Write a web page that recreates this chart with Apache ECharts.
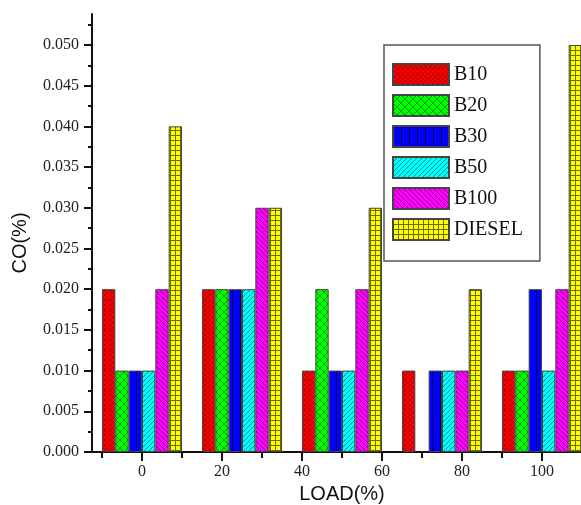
<!DOCTYPE html>
<html>
<head>
<meta charset="utf-8">
<script src="https://cdn.jsdelivr.net/npm/echarts@6/dist/echarts.min.js"></script>
<style>html,body{margin:0;padding:0;background:#fff}#c{width:581px;height:505px}</style>
</head>
<body>
<div id="c"></div>
<script>
// ---- data ----
var loads = ['0', '25', '50', '75', '100'];
var B10    = [0.02, 0.02, 0.01, 0.01, 0.01];
var B20    = [0.01, 0.02, 0.02, null, 0.01];
var B30    = [0.01, 0.02, 0.01, 0.01, 0.02];
var B50    = [0.01, 0.02, 0.01, 0.01, 0.01];
var B100   = [0.02, 0.03, 0.02, 0.01, 0.02];
var DIESEL = [0.04, 0.03, 0.03, 0.02, 0.05];
var xTickLabels = [0, 20, 40, 60, 80, 100];
var xMinorTicks = [-10, 10, 30, 50, 70, 90, 110];
var yTickLabels = [0, 0.005, 0.010, 0.015, 0.020, 0.025, 0.030, 0.035, 0.040, 0.045, 0.050];
var yMinorTicks = [0.0025, 0.0075, 0.0125, 0.0175, 0.0225, 0.0275, 0.0325, 0.0375, 0.0425, 0.0475, 0.0525];

// ---- patterns ----
function pattern(w, h, bg, draw) {
  var c = document.createElement('canvas');
  c.width = w; c.height = h;
  var g = c.getContext('2d');
  g.fillStyle = bg; g.fillRect(0, 0, w, h);
  draw(g, w, h);
  return { image: c, repeat: 'repeat' };
}
function line(g, x1, y1, x2, y2, col, lw) {
  g.strokeStyle = col; g.lineWidth = lw; g.beginPath(); g.moveTo(x1, y1); g.lineTo(x2, y2); g.stroke();
}
var pRed = pattern(5, 5, '#ff0000', function (g, w, h) {
  line(g, 0, 0, w, h, 'rgba(120,0,0,0.7)', 0.8); line(g, w, 0, 0, h, 'rgba(120,0,0,0.7)', 0.8);
});
var pGreen = pattern(8, 8, '#00ff00', function (g, w, h) {
  line(g, 0, 0, w, h, 'rgba(0,90,0,0.8)', 0.8); line(g, w, 0, 0, h, 'rgba(0,90,0,0.8)', 0.8);
});
var pBlue = pattern(8, 8, '#0000ff', function (g, w, h) {
  line(g, 0.5, 0, 0.5, h, '#000055', 1);
});
var pCyan = pattern(5, 5, '#00ffff', function (g, w, h) {
  line(g, -1, h + 1, w + 1, -1, 'rgba(0,100,110,0.8)', 0.9);
});
var pMag = pattern(5, 5, '#ff00ff', function (g, w, h) {
  line(g, -1, -1, w + 1, h + 1, 'rgba(100,0,100,0.8)', 0.9);
});
var pYel = pattern(5, 5, '#ffff00', function (g, w, h) {
  line(g, 0.5, 0, 0.5, h, '#6a6a00', 1); line(g, 0, 0.5, w, 0.5, '#6a6a00', 1);
});

var names = ['B10', 'B20', 'B30', 'B50', 'B100', 'DIESEL'];
var values = [B10, B20, B30, B50, B100, DIESEL];
var fills = [pRed, pGreen, pBlue, pCyan, pMag, pYel];

var serif = 'Liberation Serif';
var sans = 'Liberation Sans';

var series = names.map(function (n, i) {
  return {
    name: n, type: 'bar', xAxisIndex: 0, yAxisIndex: 0,
    data: values[i], barWidth: 13.33, barGap: '0%',
    itemStyle: { color: fills[i], borderColor: '#444', borderWidth: 1 },
    emphasis: { disabled: true }
  };
});

var chart = echarts.init(document.getElementById('c'), null, { renderer: 'canvas' });
chart.setOption({
  animation: false,
  backgroundColor: '#fff',
  grid: { left: 92, right: -11, top: 14, bottom: 53, containLabel: false, outerBoundsMode: 'none' },
  legend: {
    orient: 'vertical', left: 384, top: 45,
    data: names, icon: 'rect', itemWidth: 56, itemHeight: 21, itemGap: 8,
    padding: [18, 17, 20, 8], borderColor: '#555', borderWidth: 1.5,
    textStyle: { fontFamily: serif, fontSize: 20, color: '#111' },
    selectedMode: false
  },
  xAxis: [
    { type: 'category', data: loads, position: 'top', show: false },
    {
      type: 'value', min: -12.5, max: 112.5, position: 'bottom',
      name: 'LOAD(%)', nameLocation: 'middle', nameGap: 31,
      nameTextStyle: { fontFamily: sans, fontSize: 20, color: '#111' },
      axisLine: { onZero: false, lineStyle: { color: '#111', width: 2 } },
      axisTick: { show: true, inside: false, length: 9, customValues: xTickLabels, lineStyle: { color: '#111', width: 2 } },
      axisLabel: { customValues: xTickLabels, margin: 12, fontFamily: serif, fontSize: 16, color: '#222' },
      splitLine: { show: false }
    },
    {
      type: 'value', min: -12.5, max: 112.5, position: 'bottom',
      axisLine: { show: false, onZero: false },
      axisTick: { show: true, inside: false, length: 6, customValues: xMinorTicks, lineStyle: { color: '#111', width: 2 } },
      axisLabel: { show: false },
      splitLine: { show: false }
    }
  ],
  yAxis: [
    {
      type: 'value', min: 0, max: 0.0538, position: 'left',
      name: 'CO(%)', nameLocation: 'middle', nameGap: 62,
      nameTextStyle: { fontFamily: sans, fontSize: 20, color: '#111', padding: [0, 20, 0, 0] },
      axisLine: { show: true, onZero: false, lineStyle: { color: '#111', width: 2 } },
      axisTick: { show: true, inside: false, length: 8, customValues: yTickLabels, lineStyle: { color: '#111', width: 2 } },
      axisLabel: { customValues: yTickLabels, margin: 13, fontFamily: serif, fontSize: 16, color: '#222',
        formatter: function (v) { return v.toFixed(3); } },
      splitLine: { show: false }
    },
    {
      type: 'value', min: 0, max: 0.0538, position: 'left',
      axisLine: { show: false, onZero: false },
      axisTick: { show: true, inside: false, length: 4, customValues: yMinorTicks, lineStyle: { color: '#111', width: 2 } },
      axisLabel: { show: false },
      splitLine: { show: false }
    }
  ],
  series: series
});
</script>
</body>
</html>
